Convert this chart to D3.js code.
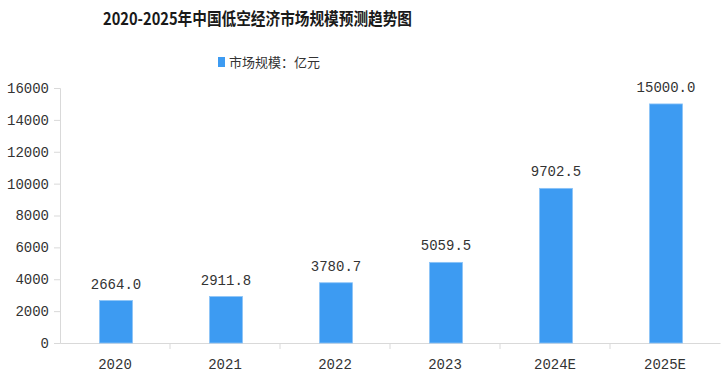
<!DOCTYPE html>
<html lang="zh">
<head>
	<meta charset="UTF-8">
	<title>2020-2025年中国低空经济市场规模预测趋势图</title>
	<style>
		body { margin: 0; background: #fff; }
	</style>
</head>
<body>

	<div id="viz-wrapper"></div>

	<script src="https://cdn.jsdelivr.net/npm/d3@7/dist/d3.min.js"></script>

	<script type="text/javascript">
    // chart data
    var years = ["2020", "2021", "2022", "2023", "2024E", "2025E"];
    var values = [2664.0, 2911.8, 3780.7, 5059.5, 9702.5, 15000.0];
    var yTicks = [0, 2000, 4000, 6000, 8000, 10000, 12000, 14000, 16000];

    var width = 723,
        height = 387;

    // plot area edges (note: "top" is reserved by the window object)
    var plotLeft = 60, plotRight = 720, plotTop = 88, plotBottom = 343;
    var numFont = "'Liberation Mono', 'DejaVu Sans Mono', monospace";
    var cjkFont = "'Noto Sans CJK SC', sans-serif";

    var svg = d3.select("#viz-wrapper")
                .append("svg")
                .attr("width", width)
                .attr("height", height);

    var x = d3.scaleBand()
              .domain(years)
              .range([plotLeft, plotRight]);

    var y = d3.scaleLinear()
              .domain([0, 16000])
              .range([plotBottom, plotTop]);

    // title, squeezed a bit like the narrow heiti of the original
    svg.append("text")
       .attr("x", 103)
       .attr("y", 25)
       .attr("textLength", 309)
       .attr("lengthAdjust", "spacingAndGlyphs")
       .style("font-family", cjkFont)
       .style("font-weight", "bold")
       .style("font-size", "17px")
       .style("fill", "#1a1a1a")
       .text("2020-2025年中国低空经济市场规模预测趋势图");

    // legend
    svg.append("rect")
       .attr("x", 218)
       .attr("y", 57)
       .attr("width", 7)
       .attr("height", 10)
       .style("fill", "#3d9bf2");
    svg.append("text")
       .attr("x", 229)
       .attr("y", 67)
       .style("font-family", cjkFont)
       .style("font-size", "13px")
       .style("fill", "#333")
       .text("市场规模：亿元");

    // y axis
    var yAxis = svg.append("g")
       .attr("transform", "translate(" + plotLeft + ",0)")
       .call(d3.axisLeft(y).tickValues(yTicks).tickFormat(d3.format("d")).tickSize(6).tickPadding(5));
    yAxis.select(".domain").attr("stroke", "#d9d9d9");
    yAxis.selectAll(".tick line").attr("stroke", "#d9d9d9");
    yAxis.selectAll("text")
         .style("font-family", numFont)
         .style("font-size", "14px")
         .style("fill", "#333");

    // x axis with ticks at band boundaries
    var xAxis = svg.append("g")
       .attr("transform", "translate(0," + plotBottom + ")")
       .call(d3.axisBottom(x).tickSize(0).tickPadding(16));
    xAxis.select(".domain").attr("stroke", "#d9d9d9");
    xAxis.selectAll("text")
         .style("font-family", numFont)
         .style("font-size", "14px")
         .style("fill", "#333");
    xAxis.selectAll(".sep")
         .data(years.slice(1))
         .enter()
         .append("line")
         .attr("x1", function(d) { return x(d); })
         .attr("x2", function(d) { return x(d); })
         .attr("y1", 0)
         .attr("y2", 6)
         .attr("stroke", "#d9d9d9");

    // bars
    var barW = 33;
    svg.selectAll(".bar")
       .data(values)
       .enter()
       .append("rect")
       .attr("class", "bar")
       .attr("x", function(d, i) { return x(years[i]) + x.bandwidth() / 2 - barW / 2 + 1; })
       .attr("y", function(d) { return y(d); })
       .attr("width", barW)
       .attr("height", function(d) { return plotBottom - y(d); })
       .style("fill", "#3d9bf2")
       .style("stroke", "#8cc4f7")
       .style("stroke-width", 0.8);

    // value labels
    svg.selectAll(".label")
       .data(values)
       .enter()
       .append("text")
       .attr("x", function(d, i) { return x(years[i]) + x.bandwidth() / 2 + 1; })
       .attr("y", function(d) { return y(d) - 12; })
       .attr("text-anchor", "middle")
       .style("font-family", numFont)
       .style("font-size", "14px")
       .style("fill", "#333")
       .text(function(d) { return d.toFixed(1); });
 	</script>

</body>
</html>
